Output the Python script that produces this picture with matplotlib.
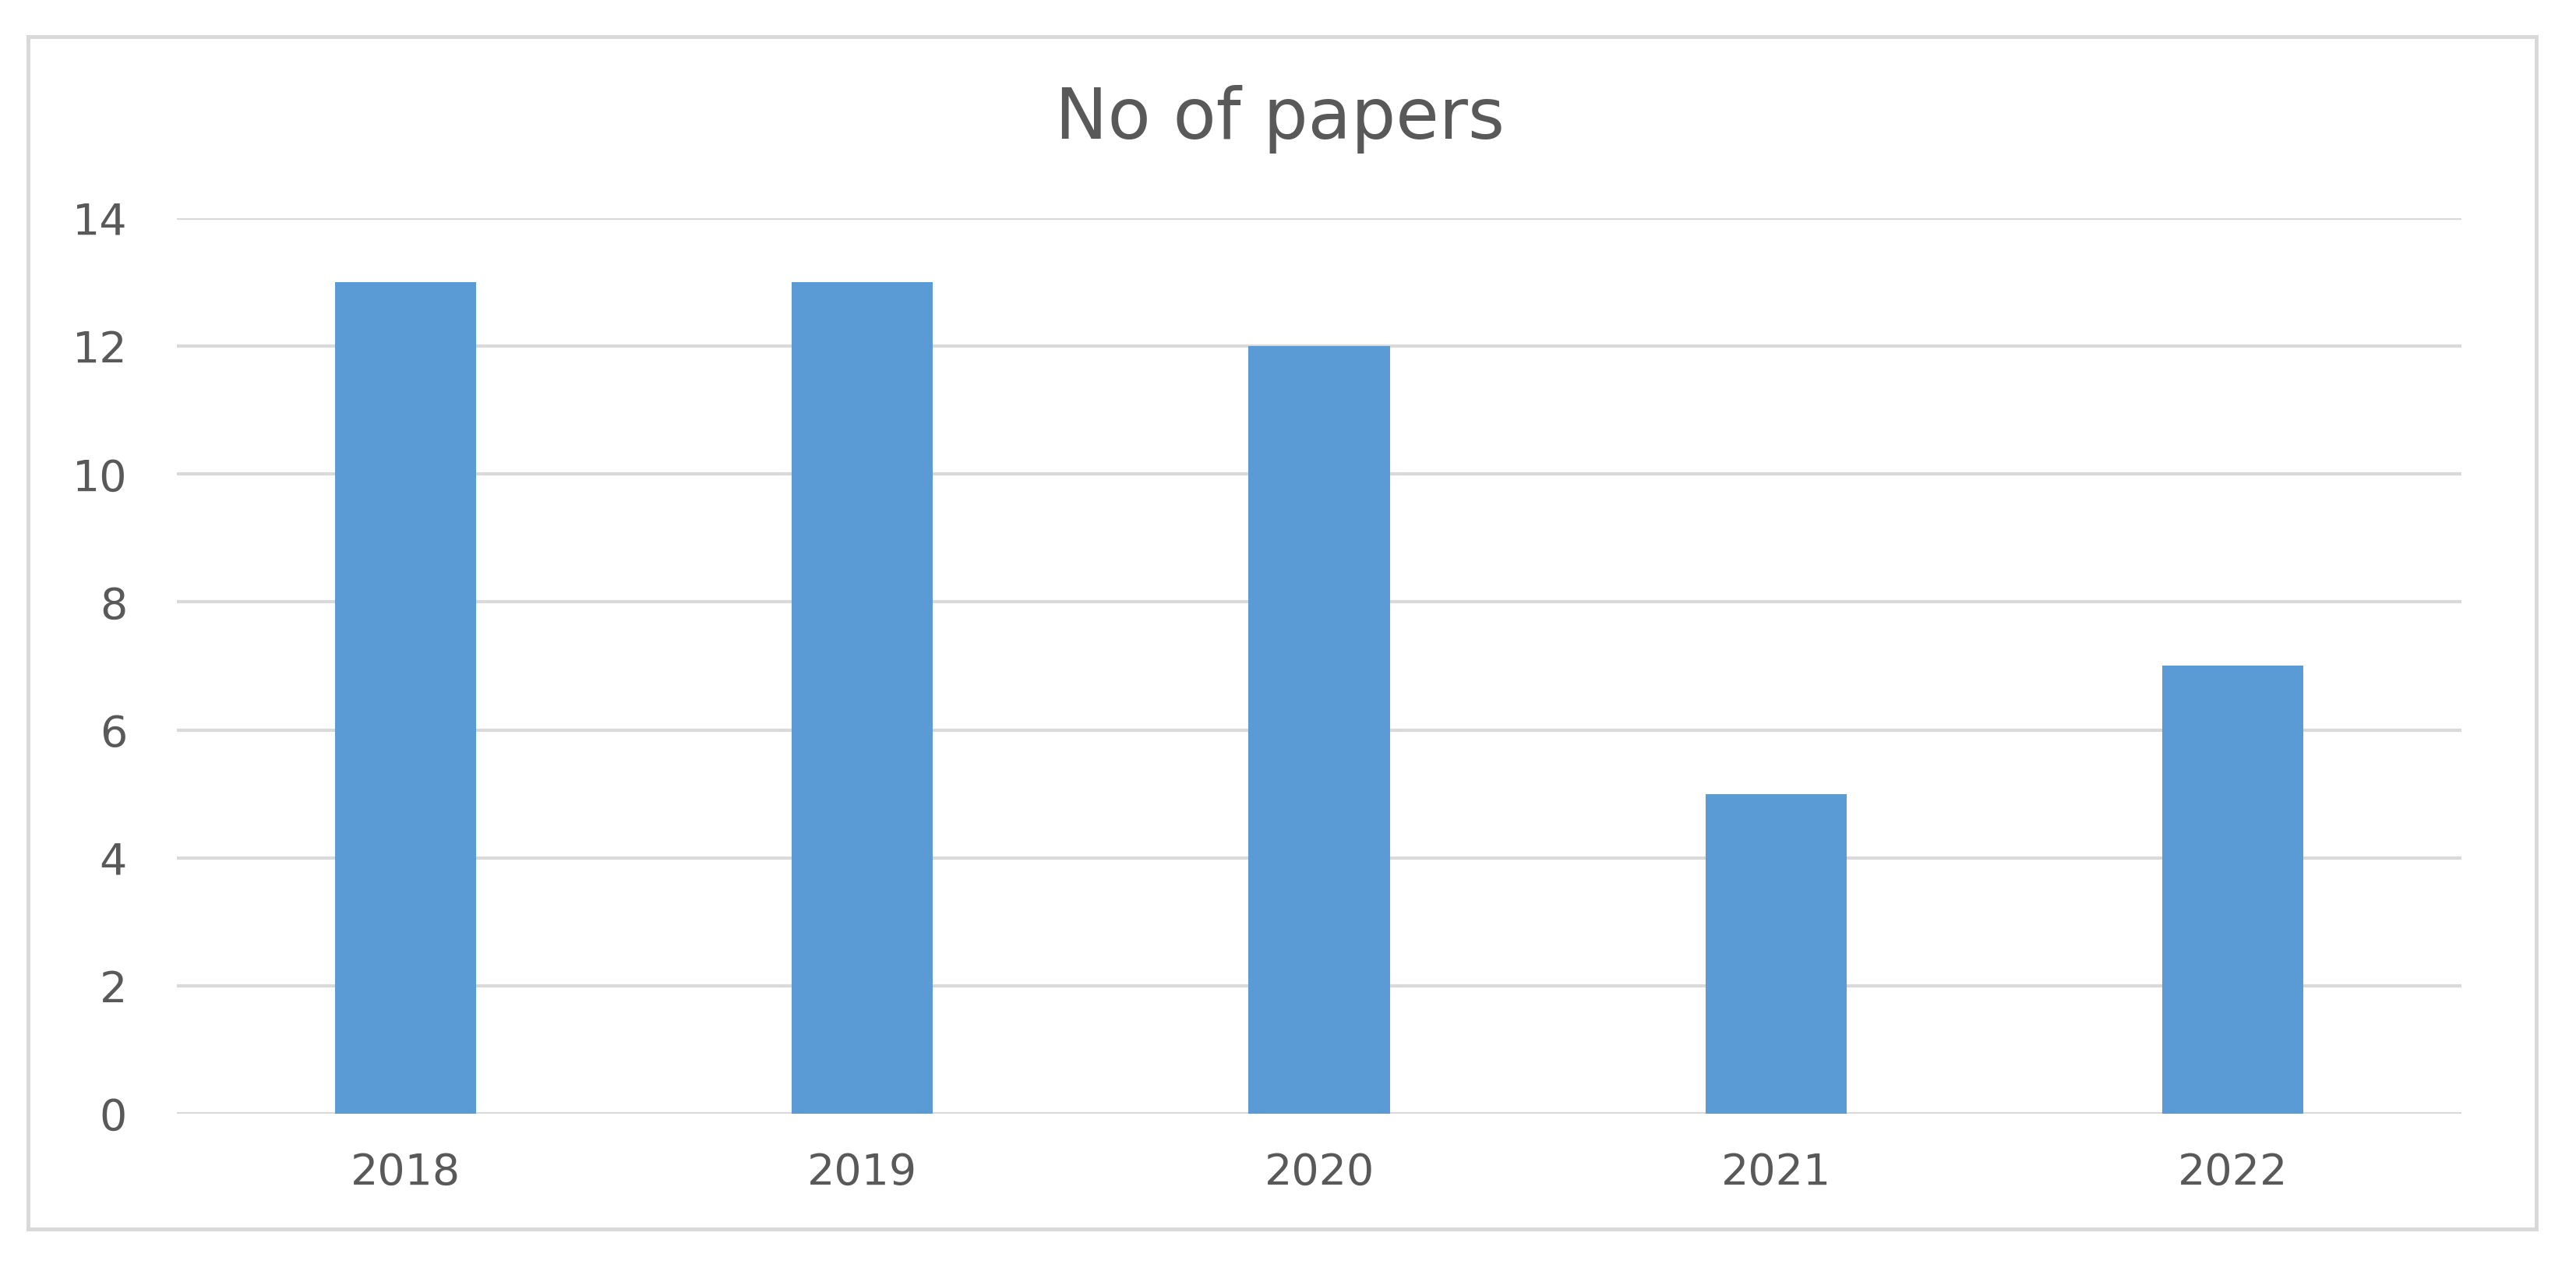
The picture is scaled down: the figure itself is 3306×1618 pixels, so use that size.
import matplotlib
matplotlib.use("Agg")
import matplotlib.pyplot as plt
from matplotlib.patches import Rectangle

years = ["2018", "2019", "2020", "2021", "2022"]
papers = [13, 13, 12, 5, 7]
y_ticks = [0, 2, 4, 6, 8, 10, 12, 14]
title = "No of papers"

bar_color = "#5B9BD5"
text_color = "#595959"
grid_color = "#D9D9D9"

plt.rcParams["font.family"] = ["DejaVu Sans"]

fig = plt.figure(figsize=(33.06, 16.18), dpi=100)
fig.patch.set_facecolor("white")

# outer chart border
fig.patches.append(Rectangle((0.01089, 0.02534), 0.97368, 0.94561,
                             transform=fig.transFigure, fill=False,
                             edgecolor=grid_color, linewidth=3.6, zorder=0))

ax = fig.add_axes([0.06866, 0.11681, 0.88688, 0.71014])
x = list(range(len(years)))
ax.bar(x, papers, width=0.309, color=bar_color, zorder=3)
ax.set_xlim(-0.5, len(years) - 0.5)
ax.set_ylim(0, 14)
ax.set_yticks(y_ticks)
ax.set_xticks(x)
ax.set_xticklabels(years)
for s in ax.spines.values():
    s.set_visible(False)
ax.yaxis.grid(True, color=grid_color, linewidth=3.0, zorder=0)
ax.set_axisbelow(True)
ax.tick_params(axis="both", length=0, colors=text_color, labelsize=40)
ax.tick_params(axis="y", pad=46)
ax.tick_params(axis="x", pad=35)

fig.text(0.4967, 0.8900, title, ha="center", va="baseline",
         fontsize=65, color=text_color)

fig.savefig("out.png", dpi=100, facecolor="white")
